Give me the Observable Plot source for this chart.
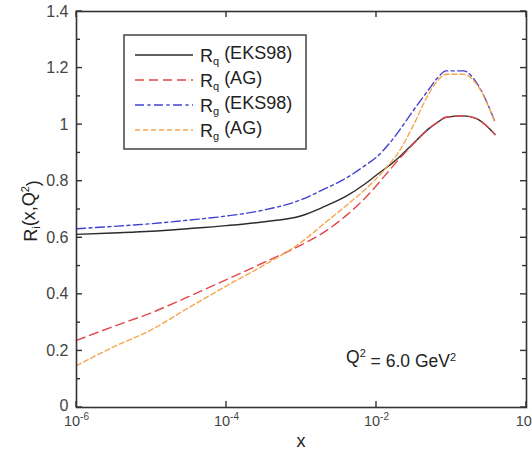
<!DOCTYPE html>
<html><head><meta charset="utf-8">
<script src="https://cdn.jsdelivr.net/npm/d3@7"></script>
<script src="https://cdn.jsdelivr.net/npm/@observablehq/plot@0.6"></script>
<style>
html,body{margin:0;padding:0;background:#fff;}
#chart{position:relative;width:532px;height:456px;overflow:hidden;}
svg{display:block;}
</style></head><body><div id="chart"></div>
<script>
// ---- data ----
const xValues = [1e-6, 3e-6, 1e-5, 3e-5, 1e-4, 3e-4, 1e-3, 2e-3, 4e-3, 7e-3, 1e-2, 1.5e-2, 2e-2, 3e-2, 5e-2, 6.5e-2, 8.5e-2, 0.145, 0.22, 0.38];
const rqEKS98 = [0.612, 0.617, 0.623, 0.632, 0.643, 0.656, 0.678, 0.710, 0.748, 0.790, 0.822, 0.857, 0.885, 0.930, 0.986, 1.008, 1.026, 1.031, 1.020, 0.965];
const rqAG    = [0.237, 0.285, 0.335, 0.390, 0.452, 0.510, 0.575, 0.620, 0.680, 0.740, 0.785, 0.840, 0.878, 0.928, 0.986, 1.008, 1.026, 1.031, 1.020, 0.965];
const rgEKS98 = [0.632, 0.640, 0.650, 0.662, 0.677, 0.697, 0.735, 0.772, 0.812, 0.855, 0.885, 0.935, 0.978, 1.045, 1.125, 1.165, 1.190, 1.190, 1.145, 1.010];
const rgAG    = [0.148, 0.212, 0.275, 0.350, 0.430, 0.500, 0.585, 0.650, 0.715, 0.770, 0.810, 0.862, 0.905, 0.990, 1.110, 1.155, 1.178, 1.178, 1.140, 1.008];

const seriesNames = ["Rq (EKS98)", "Rq (AG)", "Rg (EKS98)", "Rg (AG)"];
const seriesBase = ["R", "R", "R", "R"];
const seriesSub = ["q", "q", "g", "g"];
const seriesTag = ["(EKS98)", "(AG)", "(EKS98)", "(AG)"];
const seriesValues = [rqEKS98, rqAG, rgEKS98, rgAG];
const seriesColors = ["#2b2b2b", "#e2474b", "#4141d2", "#f5a54c"];
const seriesDash = [null, "9,5", "9,3.5,3,3.5", "5,3"];

const yTicks = [0, 0.2, 0.4, 0.6, 0.8, 1, 1.2, 1.4];
const yMinorTicks = [0.1, 0.3, 0.5, 0.7, 0.9, 1.1, 1.3];
const xTicks = [1e-6, 1e-4, 1e-2, 1];
const xTickExponents = ["-6", "-4", "-2", "0"];

const xLabel = "x";
const yLabelParts = {base: "R", sub: "i", rest: "(x,Q", sup: "2", end: ")"};
const noteParts = {a: "Q", aSup: "2", b: " = 6.0 GeV", bSup: "2"};

// ---- table ----
const table = [];
seriesValues.forEach((vals, s) => vals.forEach((v, i) => table.push({series: seriesNames[s], x: xValues[i], y: v})));

const FONT = "'Liberation Sans', Arial, Helvetica, sans-serif";
const axisColor = "#333";

const lineMarks = seriesNames.map((name, s) => Plot.line(table.filter(d => d.series === name), {
  x: "x", y: "y", stroke: seriesColors[s], strokeWidth: 1.4,
  strokeDasharray: seriesDash[s] ?? undefined, curve: "monotone-x"
}));

const chart = Plot.plot({
  width: 532, height: 456,
  marginLeft: 76, marginRight: 6, marginTop: 11, marginBottom: 49,
  style: {fontFamily: FONT, background: "#fff"},
  x: {type: "log", domain: [1e-6, 1]},
  y: {domain: [0, 1.4]},
  marks: [
    ...lineMarks,
    Plot.frame({stroke: axisColor, strokeWidth: 1.6}),
    Plot.axisY(yTicks, {anchor: "left", tickSize: 0, tickPadding: 8, tickFormat: d3.format("~g"), label: null, fontSize: 16, color: "#444"}),
    Plot.axisX(xTicks, {anchor: "bottom", tickSize: 0, tickPadding: 8, tickFormat: () => "10", label: null, fontSize: 14.5, color: "#444"})
  ]
});

document.getElementById("chart").appendChild(chart);
const svg = d3.select(chart);
const sx = chart.scale("x"), sy = chart.scale("y");
const xr = sx.range, yr = sy.range;
const xL = Math.min(...xr), xR = Math.max(...xr), yB = Math.max(...yr), yT = Math.min(...yr);

// inward tick marks on all four sides, placed through the plot scales
const tg = svg.append("g").attr("aria-label", "inner ticks");
const tick = (xa, ya, xb, yb) => tg.append("line")
  .attr("x1", xa).attr("y1", ya).attr("x2", xb).attr("y2", yb)
  .attr("stroke", axisColor).attr("stroke-width", 1.4);
const addY = (vals, len) => vals.forEach(v => {
  const y = sy.apply(v);
  tick(xL, y, xL + len, y);
  tick(xR, y, xR - len, y);
});
addY(yTicks, 6); addY(yMinorTicks, 4);
xTicks.forEach(v => {
  const x = sx.apply(v);
  tick(x, yB, x, yB - 6);
  tick(x, yT, x, yT + 6);
});

// raise the "0" label a little, as in the reference
svg.selectAll('g[aria-label="y-axis tick label"] text').filter(function() { return this.textContent === "0"; })
  .attr("dy", "-0.1em");

// superscripts on x tick labels
svg.selectAll('g[aria-label="x-axis tick label"] text').each(function(d, i) {
  const t = d3.select(this);
  t.text("10");
  t.append("tspan").attr("dy", "-0.55em").attr("font-size", 10).text(xTickExponents[i]);
});

// axis titles
svg.append("text").attr("x", 301).attr("y", 447).attr("text-anchor", "middle")
  .attr("font-size", 18).attr("fill", "#222").attr("font-family", FONT).text(xLabel);

const yl = svg.append("text").attr("transform", "translate(37,211) rotate(-90)").attr("text-anchor", "middle")
  .attr("font-size", 18).attr("fill", "#222").attr("font-family", FONT);
yl.append("tspan").text(yLabelParts.base);
yl.append("tspan").attr("dy", "0.3em").attr("font-size", 11).text(yLabelParts.sub);
yl.append("tspan").attr("dy", "-0.3em").text(yLabelParts.rest);
yl.append("tspan").attr("dy", "-0.55em").attr("font-size", 11).text(yLabelParts.sup);
yl.append("tspan").attr("dy", "0.55em").text(yLabelParts.end);

// note
const nt = svg.append("text").attr("x", 346).attr("y", 363).attr("text-anchor", "start")
  .attr("font-size", 17.5).attr("fill", "#222").attr("font-family", FONT);
nt.append("tspan").text(noteParts.a);
nt.append("tspan").attr("dy", "-0.55em").attr("font-size", 11).text(noteParts.aSup);
nt.append("tspan").attr("dy", "0.55em").text(noteParts.b);
nt.append("tspan").attr("dy", "-0.55em").attr("font-size", 11).text(noteParts.bSup);

// legend
const lg = svg.append("g").attr("aria-label", "legend");
lg.append("rect").attr("x", 124).attr("y", 35).attr("width", 182).attr("height", 114)
  .attr("fill", "#fff").attr("stroke", "#444").attr("stroke-width", 1.5);
seriesNames.forEach((name, s) => {
  const yy = 55 + s * 25;
  lg.append("line").attr("x1", 135).attr("x2", 193).attr("y1", yy).attr("y2", yy)
    .attr("stroke", seriesColors[s]).attr("stroke-width", 1.6)
    .attr("stroke-dasharray", seriesDash[s]);
  const tx = lg.append("text").attr("x", 200).attr("y", yy + 6.5).attr("text-anchor", "start")
    .attr("font-size", 18).attr("fill", "#222").attr("font-family", FONT);
  tx.append("tspan").text(seriesBase[s]);
  tx.append("tspan").attr("dy", "0.35em").attr("font-size", 11).text(seriesSub[s]);
  tx.append("tspan").attr("dy", "-0.35em").text(" " + seriesTag[s]);
});
</script></body></html>
